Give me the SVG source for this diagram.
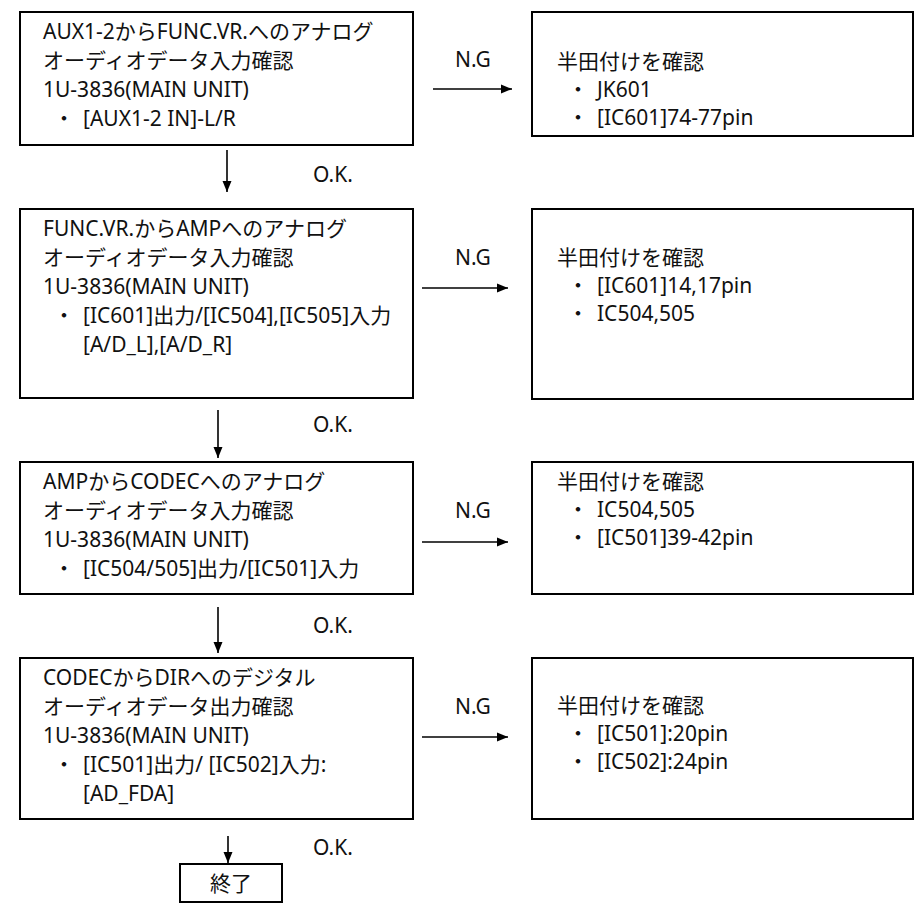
<svg xmlns="http://www.w3.org/2000/svg" width="922" height="911" viewBox="0 0 922 911">
<style>
  .box { fill: #ffffff; stroke: #000000; stroke-width: 2; }
  .t { font-family: "Noto Sans", "Noto Sans CJK JP", sans-serif; font-size: 21px; fill: #111111; }
  .c { text-anchor: middle; }
  .ln { stroke: #000000; stroke-width: 1.6; fill: none; marker-end: url(#ah); }
</style>
<defs>
  <marker id="ah" markerUnits="userSpaceOnUse" markerWidth="12" markerHeight="10" refX="11" refY="5" orient="auto">
    <path d="M0,0.5 L11,5 L0,9.5 z" fill="#000000"/>
  </marker>
</defs>
<rect width="922" height="911" fill="#ffffff"/>

<g id="step1">
  <rect class="box" x="20" y="12" width="393" height="133"/>
  <text class="t" x="43" y="39">AUX1-2からFUNC.VR.へのアナログ</text>
  <text class="t" x="43" y="68">オーディオデータ入力確認</text>
  <text class="t" x="43" y="97">1U-3836(MAIN UNIT)</text>
  <text class="t c" x="64" y="126">・</text>
  <text class="t" x="83" y="126">[AUX1-2 IN]-L/R</text>
</g>
<g id="fix1">
  <rect class="box" x="532" y="12" width="381" height="124"/>
  <text class="t" x="557" y="69">半田付けを確認</text>
  <text class="t c" x="578" y="97">・</text>
  <text class="t" x="597" y="97">JK601</text>
  <text class="t c" x="578" y="125">・</text>
  <text class="t" x="597" y="125">[IC601]74-77pin</text>
</g>

<g id="step2">
  <rect class="box" x="20" y="209" width="393" height="189"/>
  <text class="t" x="43" y="236">FUNC.VR.からAMPへのアナログ</text>
  <text class="t" x="43" y="265">オーディオデータ入力確認</text>
  <text class="t" x="43" y="294">1U-3836(MAIN UNIT)</text>
  <text class="t c" x="64" y="323">・</text>
  <text class="t" x="83" y="323">[IC601]出力/[IC504],[IC505]入力</text>
  <text class="t" x="83" y="352">[A/D_L],[A/D_R]</text>
</g>
<g id="fix2">
  <rect class="box" x="532" y="209" width="381" height="190"/>
  <text class="t" x="557" y="265">半田付けを確認</text>
  <text class="t c" x="578" y="293">・</text>
  <text class="t" x="597" y="293">[IC601]14,17pin</text>
  <text class="t c" x="578" y="321">・</text>
  <text class="t" x="597" y="321">IC504,505</text>
</g>

<g id="step3">
  <rect class="box" x="20" y="462" width="393" height="132"/>
  <text class="t" x="43" y="489">AMPからCODECへのアナログ</text>
  <text class="t" x="43" y="518">オーディオデータ入力確認</text>
  <text class="t" x="43" y="547">1U-3836(MAIN UNIT)</text>
  <text class="t c" x="64" y="576">・</text>
  <text class="t" x="83" y="576">[IC504/505]出力/[IC501]入力</text>
</g>
<g id="fix3">
  <rect class="box" x="532" y="462" width="381" height="132"/>
  <text class="t" x="557" y="489">半田付けを確認</text>
  <text class="t c" x="578" y="517">・</text>
  <text class="t" x="597" y="517">IC504,505</text>
  <text class="t c" x="578" y="545">・</text>
  <text class="t" x="597" y="545">[IC501]39-42pin</text>
</g>

<g id="step4">
  <rect class="box" x="20" y="658" width="393" height="161"/>
  <text class="t" x="43" y="685">CODECからDIRへのデジタル</text>
  <text class="t" x="43" y="714">オーディオデータ出力確認</text>
  <text class="t" x="43" y="743">1U-3836(MAIN UNIT)</text>
  <text class="t c" x="64" y="772">・</text>
  <text class="t" x="83" y="772">[IC501]出力/ [IC502]入力:</text>
  <text class="t" x="83" y="801">[AD_FDA]</text>
</g>
<g id="fix4">
  <rect class="box" x="532" y="658" width="381" height="161"/>
  <text class="t" x="557" y="713">半田付けを確認</text>
  <text class="t c" x="578" y="741">・</text>
  <text class="t" x="597" y="741">[IC501]:20pin</text>
  <text class="t c" x="578" y="769">・</text>
  <text class="t" x="597" y="769">[IC502]:24pin</text>
</g>

<g id="end">
  <rect class="box" x="180" y="864" width="102" height="38"/>
  <text class="t c" x="231" y="891">終了</text>
</g>

<g id="connectors">
  <line class="ln" x1="433" y1="89" x2="512" y2="89"/>
  <line class="ln" x1="422" y1="288" x2="508" y2="288"/>
  <line class="ln" x1="422" y1="542" x2="508" y2="542"/>
  <line class="ln" x1="422" y1="737" x2="508" y2="737"/>
  <line class="ln" x1="227" y1="150" x2="227" y2="192"/>
  <line class="ln" x1="218" y1="410" x2="218" y2="458"/>
  <line class="ln" x1="218" y1="607" x2="218" y2="653"/>
  <line class="ln" x1="228" y1="836" x2="228" y2="863"/>
  <text class="t c" x="473" y="67">N.G</text>
  <text class="t c" x="473" y="265">N.G</text>
  <text class="t c" x="473" y="518">N.G</text>
  <text class="t c" x="473" y="714">N.G</text>
  <text class="t" x="313" y="182">O.K.</text>
  <text class="t" x="313" y="432">O.K.</text>
  <text class="t" x="313" y="633">O.K.</text>
  <text class="t" x="313" y="855">O.K.</text>
</g>
</svg>
